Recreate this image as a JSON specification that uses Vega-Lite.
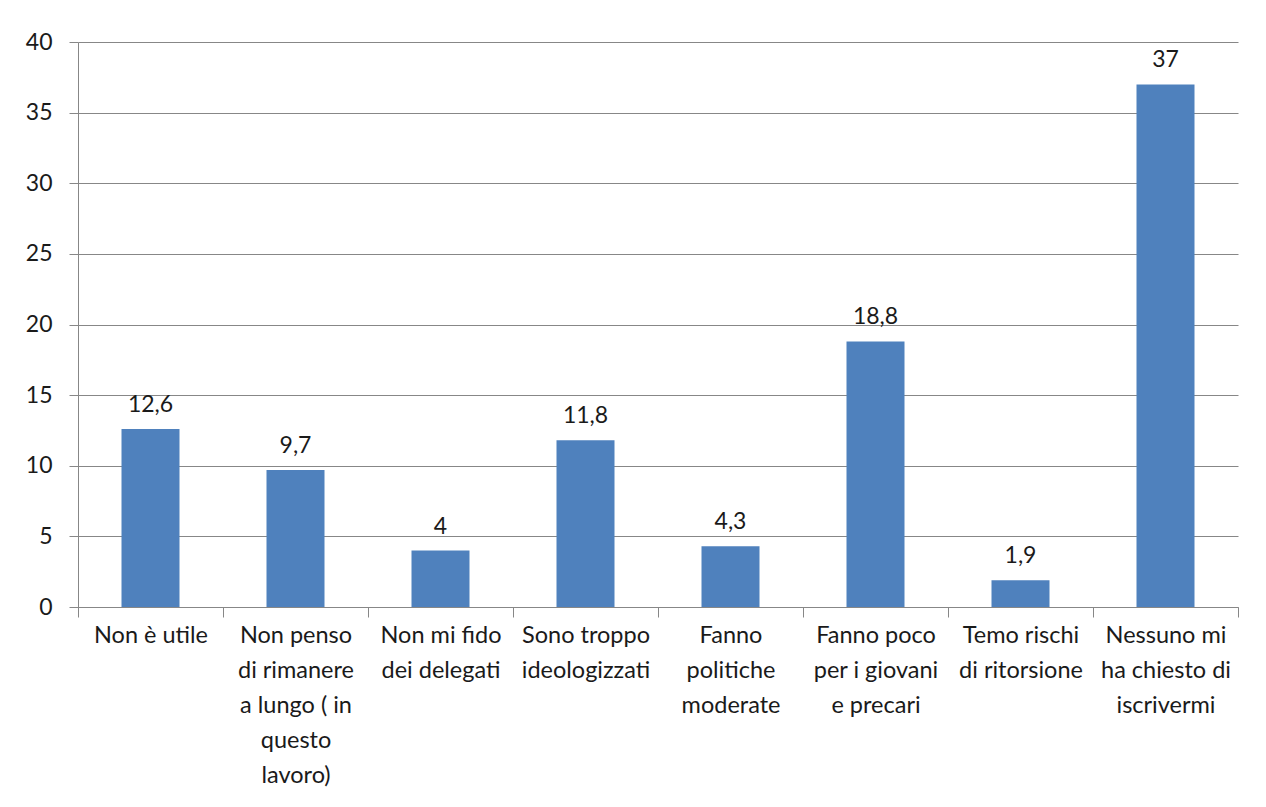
{
  "$schema": "https://vega.github.io/schema/vega-lite/v6.json",
  "width": 1160,
  "height": 565,
  "autosize": {"type": "none"},
  "padding": {"left": 78, "top": 42, "right": 28, "bottom": 200},
  "background": "white",
  "config": {
    "view": {"stroke": null},
    "font": "Lato"
  },
  "data": {
    "values": [
      {"motivo": "Non è utile", "valore": 12.6, "etichetta": "12,6"},
      {"motivo": "Non penso\ndi rimanere\na lungo ( in\nquesto\nlavoro)", "valore": 9.7, "etichetta": "9,7"},
      {"motivo": "Non mi fido\ndei delegati", "valore": 4, "etichetta": "4"},
      {"motivo": "Sono troppo\nideologizzati", "valore": 11.8, "etichetta": "11,8"},
      {"motivo": "Fanno\npolitiche\nmoderate", "valore": 4.3, "etichetta": "4,3"},
      {"motivo": "Fanno poco\nper i giovani\ne precari", "valore": 18.8, "etichetta": "18,8"},
      {"motivo": "Temo rischi\ndi ritorsione", "valore": 1.9, "etichetta": "1,9"},
      {"motivo": "Nessuno mi\nha chiesto di\niscrivermi", "valore": 37, "etichetta": "37"}
    ]
  },
  "encoding": {
    "x": {
      "field": "motivo",
      "type": "nominal",
      "sort": null,
      "scale": {"paddingInner": 0, "paddingOuter": 0},
      "axis": {
        "title": null,
        "labelAngle": 0,
        "labelExpr": "datum.value ? split(datum.value, '\\n') : ''",
        "labelFont": "Lato",
        "labelFontSize": 23.5,
        "labelColor": "#1a1a1a",
        "labelLineHeight": 35,
        "labelPadding": 6,
        "labelBaseline": "top",
        "labelLimit": 300,
        "ticks": true,
        "tickBand": "extent",
        "tickSize": 10,
        "tickColor": "#878787",
        "domainColor": "#878787",
        "grid": false
      }
    },
    "y": {
      "field": "valore",
      "type": "quantitative",
      "scale": {"domain": [0, 40], "nice": false},
      "axis": {
        "title": null,
        "values": [0, 5, 10, 15, 20, 25, 30, 35, 40],
        "labelFont": "Lato",
        "labelFontSize": 23,
        "labelColor": "#1a1a1a",
        "labelPadding": 17,
        "tickSize": 9,
        "tickColor": "#878787",
        "domainColor": "#878787",
        "gridColor": "#878787",
        "grid": true
      }
    }
  },
  "layer": [
    {
      "mark": {"type": "bar", "color": "#4F81BD", "width": {"band": 0.4}}
    },
    {
      "mark": {"type": "text", "baseline": "bottom", "dy": -12, "fontSize": 23, "font": "Lato", "color": "#1a1a1a"},
      "encoding": {"text": {"field": "etichetta"}}
    }
  ]
}
